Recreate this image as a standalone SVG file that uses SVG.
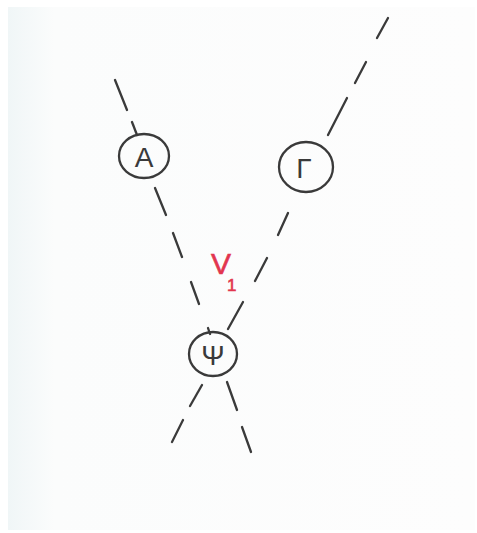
<svg xmlns="http://www.w3.org/2000/svg" width="477" height="533" viewBox="0 0 477 533">
  <defs>
    <linearGradient id="paper" x1="0" y1="0" x2="1" y2="0">
      <stop offset="0" stop-color="#f0f6f7"/>
      <stop offset="0.1" stop-color="#fbfcfc"/>
      <stop offset="1" stop-color="#fdfdfd"/>
    </linearGradient>
  </defs>
  <style>
    .dash { stroke: #3a3a3a; stroke-width: 2.3; stroke-linecap: round; fill: none; }
    .ring { stroke: #3a3a3a; stroke-width: 2.3; fill: none; }
    .lbl { font-family: "Liberation Sans", Arial, sans-serif; fill: #3a3a3a; text-anchor: middle; }
    .red { font-family: "Liberation Sans", Arial, sans-serif; fill: #e2354f; stroke: #e2354f; stroke-width: 0.6; }
  </style>
  <rect x="0" y="0" width="477" height="533" fill="#ffffff"/>
  <rect x="8" y="7" width="467" height="523" fill="url(#paper)"/>

  <g id="connectors">
    <!-- line through A and Psi -->
    <line class="dash" x1="115" y1="80" x2="127" y2="110"/>
    <line class="dash" x1="132" y1="122" x2="137" y2="135"/>
    <line class="dash" x1="155" y1="188" x2="166" y2="215"/>
    <line class="dash" x1="173" y1="233" x2="182" y2="257"/>
    <line class="dash" x1="191" y1="282" x2="199" y2="304"/>
    <line class="dash" x1="208" y1="328" x2="210" y2="334"/>
    <line class="dash" x1="227" y1="382" x2="237" y2="410"/>
    <line class="dash" x1="242" y1="427" x2="251" y2="452"/>
    <!-- line through Gamma and Psi -->
    <line class="dash" x1="388" y1="18" x2="377" y2="38"/>
    <line class="dash" x1="366" y1="62" x2="355" y2="83"/>
    <line class="dash" x1="347" y1="98" x2="328" y2="135"/>
    <line class="dash" x1="288" y1="213" x2="278" y2="235"/>
    <line class="dash" x1="267" y1="258" x2="255" y2="281"/>
    <line class="dash" x1="243" y1="302" x2="228" y2="329"/>
    <line class="dash" x1="202" y1="385" x2="190" y2="406"/>
    <line class="dash" x1="183" y1="420" x2="172" y2="442"/>
  </g>

  <g id="node-A">
    <ellipse class="ring" cx="144" cy="156" rx="25" ry="22"/>
    <text class="lbl" x="144" y="167" font-size="28">A</text>
  </g>

  <g id="node-Gamma">
    <ellipse class="ring" cx="306" cy="167" rx="27" ry="25"/>
    <text class="lbl" x="304" y="178" font-size="28">Γ</text>
  </g>

  <g id="node-Psi">
    <ellipse class="ring" cx="213" cy="354" rx="24" ry="22"/>
    <text class="lbl" x="213" y="365" font-size="28">Ψ</text>
  </g>

  <g id="label-V1">
    <text class="red" x="211" y="274" font-size="30">V</text>
    <text class="red" x="227" y="291" font-size="17">1</text>
  </g>
</svg>
